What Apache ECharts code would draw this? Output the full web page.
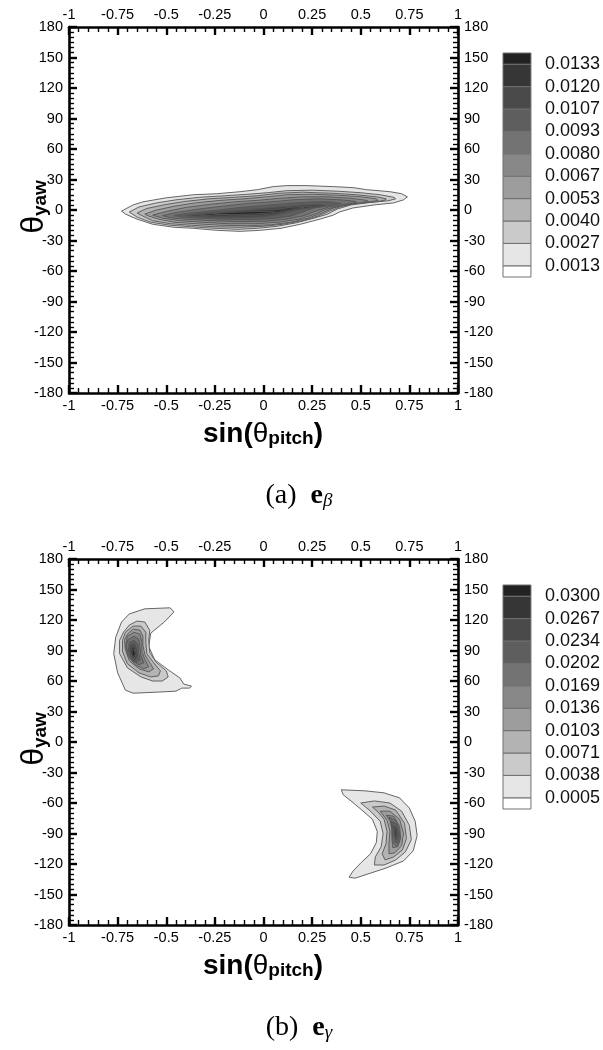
<!DOCTYPE html>
<html>
<head>
<meta charset="utf-8">
<script src="https://cdn.jsdelivr.net/npm/echarts@6/dist/echarts.min.js"></script>
<style>
  html, body { margin: 0; padding: 0; background: #ffffff; }
  #chart { width: 603px; height: 1050px; }
</style>
</head>
<body>
<div id="chart"></div>
<script>
// ---- axis ticks -------------------------------------------------------
const xTicks = [-1, -0.75, -0.5, -0.25, 0, 0.25, 0.5, 0.75, 1];
const yTicks = [-180, -150, -120, -90, -60, -30, 0, 30, 60, 90, 120, 150, 180];

// ---- contour levels (colour bar labels) -------------------------------
const levelsBeta  = ['0.0013', '0.0027', '0.0040', '0.0053', '0.0067', '0.0080', '0.0093', '0.0107', '0.0120', '0.0133'];
const levelsGamma = ['0.0005', '0.0038', '0.0071', '0.0103', '0.0136', '0.0169', '0.0202', '0.0234', '0.0267', '0.0300'];

// fill of the region above each level (level 1 .. level 10)
const bandFills = ['#e6e6e6', '#cacaca', '#b3b3b3', '#9d9d9d', '#888888', '#737373', '#5e5e5e', '#4a4a4a', '#363636', '#222222'];

// ---- e_beta : contour outlines, [sin(pitch), yaw] ---------------------
const betaL1 = [[-0.73,-1],[-0.67,5],[-0.62,8],[-0.50,12],[-0.36,15],[-0.24,16],[-0.12,18],[-0.03,20],[0.05,23],[0.12,24],[0.22,24],[0.36,23],[0.46,22],[0.53,20],[0.65,18],[0.71,16],[0.74,13],[0.72,10],[0.67,7],[0.57,5],[0.46,2],[0.39,-2],[0.36,-5],[0.29,-9],[0.19,-14],[0.09,-18],[-0.02,-20],[-0.12,-21],[-0.24,-20],[-0.36,-18],[-0.46,-17],[-0.57,-14],[-0.65,-9],[-0.71,-4]];
const betaL2 = [[-0.69,-2],[-0.64,3],[-0.55,7],[-0.45,10],[-0.33,12.5],[-0.20,14],[-0.08,15.5],[0.02,17],[0.12,19],[0.25,19.5],[0.38,18.5],[0.50,17],[0.60,15],[0.67,12.5],[0.68,11],[0.64,9],[0.55,7.5],[0.45,5],[0.38,1],[0.33,-4],[0.26,-8],[0.17,-12.5],[0.07,-16],[-0.03,-18],[-0.13,-19],[-0.25,-18],[-0.37,-16.5],[-0.48,-15],[-0.58,-12],[-0.65,-7]];
const betaL3 = [[-0.65,-3],[-0.60,1.5],[-0.50,5.5],[-0.40,8.5],[-0.28,11],[-0.15,12.5],[-0.03,14],[0.08,16.5],[0.20,17.5],[0.35,16.5],[0.48,15],[0.58,13],[0.63,11],[0.63,10],[0.58,8],[0.48,6.5],[0.40,3.5],[0.34,-1],[0.28,-6],[0.20,-10.5],[0.10,-14],[0.00,-16],[-0.12,-17],[-0.25,-16.5],[-0.37,-15],[-0.48,-13.5],[-0.57,-10.5],[-0.62,-6]];
const betaL4 = [[-0.61,-4],[-0.55,0],[-0.45,4],[-0.35,7],[-0.22,9.5],[-0.10,11],[0.02,13],[0.12,15],[0.25,15.5],[0.38,14.5],[0.50,13],[0.58,11],[0.59,9.5],[0.53,7.5],[0.44,5.5],[0.36,2],[0.30,-3],[0.23,-8],[0.14,-12],[0.04,-14.5],[-0.08,-15.5],[-0.22,-15],[-0.35,-13.5],[-0.46,-12],[-0.54,-9],[-0.59,-6]];
const betaL5 = [[-0.57,-5],[-0.50,-1.5],[-0.40,2.5],[-0.28,5.5],[-0.15,8],[-0.03,9.5],[0.08,11.5],[0.20,13],[0.33,13],[0.45,11.5],[0.53,9.5],[0.54,8.5],[0.48,6.5],[0.40,4.5],[0.32,0.5],[0.26,-4.5],[0.18,-9],[0.08,-12],[-0.04,-13.5],[-0.18,-13.5],[-0.32,-12],[-0.43,-10.5],[-0.52,-8]];
const betaL6 = [[-0.52,-5.5],[-0.45,-2.5],[-0.33,1],[-0.20,4],[-0.08,6.5],[0.04,8],[0.15,10],[0.28,11],[0.40,10],[0.47,8.5],[0.48,7.5],[0.42,5.5],[0.34,3],[0.27,-1],[0.21,-5.5],[0.12,-9],[0.02,-11],[-0.12,-11.5],[-0.27,-10.5],[-0.40,-9],[-0.48,-7.5]];
const betaL7 = [[-0.46,-5.5],[-0.38,-3],[-0.25,-0.5],[-0.12,2.5],[0.00,4.5],[0.12,6.5],[0.24,8],[0.34,8],[0.40,6.5],[0.35,4.5],[0.26,2],[0.20,-2],[0.14,-6],[0.05,-8.5],[-0.07,-9.5],[-0.22,-9],[-0.34,-8],[-0.42,-7]];
const betaL8 = [[-0.40,-5.5],[-0.30,-3],[-0.17,-1],[-0.04,1],[0.08,3],[0.20,5],[0.30,5.5],[0.32,4],[0.25,2],[0.17,0],[0.10,-3.5],[0.02,-6.5],[-0.10,-7.5],[-0.24,-7.5],[-0.35,-6.5]];
const betaL9 = [[-0.33,-4.5],[-0.22,-2.5],[-0.08,-0.5],[0.04,0.5],[0.10,1],[0.14,3],[0.22,3.5],[0.25,2.5],[0.18,1],[0.10,-1.5],[0.04,-4.5],[-0.08,-5.5],[-0.22,-6],[-0.30,-5.5]];
const betaL10 = [[-0.26,-3.5],[-0.14,-2.2],[-0.02,-1.5],[0.05,-1.2],[0.06,-2.5],[-0.04,-3.8],[-0.16,-4.5],[-0.24,-4.5]];
const betaL10b = [[0.12,2.5],[0.18,3],[0.21,2.5],[0.16,1.8]];

const betaContours = [
  { level: 1, pts: betaL1 }, { level: 2, pts: betaL2 }, { level: 3, pts: betaL3 },
  { level: 4, pts: betaL4 }, { level: 5, pts: betaL5 }, { level: 6, pts: betaL6 },
  { level: 7, pts: betaL7 }, { level: 8, pts: betaL8 }, { level: 9, pts: betaL9 },
  { level: 10, pts: betaL10 }, { level: 10, pts: betaL10b }
];

// ---- e_gamma : two crescent-shaped lobes ------------------------------
const gammaUpL1 = [[-0.69,126],[-0.61,131],[-0.48,132],[-0.46,128],[-0.51,118],[-0.58,107],[-0.59,94],[-0.56,81],[-0.49,71],[-0.43,63],[-0.41,57],[-0.37,55],[-0.38,53],[-0.42,53],[-0.45,50],[-0.55,49],[-0.67,48],[-0.71,51],[-0.75,68],[-0.77,87],[-0.76,103],[-0.73,118]];
const gammaUpL2 = [[-0.72,108],[-0.69,115],[-0.65,119],[-0.61,118],[-0.585,110],[-0.59,100],[-0.585,88],[-0.55,78],[-0.50,70],[-0.49,64],[-0.52,60],[-0.57,60],[-0.63,64],[-0.70,73],[-0.74,87],[-0.74,100]];
const gammaUpL3 = [[-0.71,108],[-0.67,114],[-0.63,114],[-0.605,108],[-0.605,98],[-0.60,87],[-0.565,78],[-0.53,70],[-0.54,65],[-0.58,64],[-0.64,68],[-0.70,77],[-0.725,89],[-0.725,100]];
const gammaUpL4 = [[-0.70,106],[-0.67,111],[-0.635,110],[-0.62,104],[-0.62,95],[-0.61,86],[-0.585,78],[-0.565,72],[-0.59,69],[-0.64,72],[-0.69,80],[-0.71,91],[-0.715,100]];
const gammaUpL5 = [[-0.70,104],[-0.665,108],[-0.635,106],[-0.625,98],[-0.625,89],[-0.61,81],[-0.59,74],[-0.615,72],[-0.66,76],[-0.695,84],[-0.71,94]];
const gammaUpL6 = [[-0.695,101],[-0.665,104],[-0.64,101],[-0.635,93],[-0.63,85],[-0.615,78],[-0.64,76],[-0.675,80],[-0.70,88],[-0.705,96]];
const gammaUpL7 = [[-0.69,98],[-0.665,100],[-0.645,96],[-0.642,88],[-0.635,81],[-0.655,78],[-0.68,82],[-0.695,90]];
const gammaUpL8 = [[-0.685,95],[-0.665,97],[-0.65,91],[-0.648,84],[-0.66,80],[-0.68,84],[-0.69,90]];
const gammaUpL9 = [[-0.68,92],[-0.663,94],[-0.655,88],[-0.66,83],[-0.675,84],[-0.683,88]];
const gammaUpL10 = [[-0.675,90],[-0.664,91],[-0.66,86],[-0.668,84],[-0.676,86]];

const gammaLoL1 = [[0.40,-47],[0.52,-48],[0.62,-50],[0.70,-55],[0.75,-65],[0.78,-78],[0.79,-92],[0.77,-107],[0.72,-117],[0.63,-124],[0.55,-129],[0.47,-134],[0.44,-133],[0.46,-127],[0.50,-119],[0.55,-110],[0.58,-99],[0.585,-88],[0.56,-76],[0.50,-66],[0.45,-58],[0.41,-52]];
const gammaLoL2 = [[0.50,-60],[0.57,-58],[0.65,-60],[0.71,-68],[0.75,-82],[0.76,-96],[0.73,-108],[0.68,-116],[0.62,-121],[0.57,-121],[0.575,-113],[0.605,-103],[0.615,-90],[0.60,-78],[0.55,-68]];
const gammaLoL3 = [[0.56,-64],[0.62,-63],[0.68,-67],[0.725,-80],[0.735,-95],[0.715,-106],[0.67,-113],[0.625,-116],[0.61,-110],[0.63,-100],[0.635,-88],[0.62,-76],[0.59,-69]];
const gammaLoL4 = [[0.60,-68],[0.65,-68],[0.70,-76],[0.72,-90],[0.71,-102],[0.675,-109],[0.645,-110],[0.645,-100],[0.65,-88],[0.635,-77]];
const gammaLoL5 = [[0.63,-72],[0.67,-73],[0.70,-83],[0.705,-95],[0.69,-103],[0.665,-104],[0.66,-95],[0.66,-85],[0.65,-77]];
const gammaLoL6 = [[0.645,-74],[0.68,-77],[0.70,-87],[0.70,-98],[0.685,-103],[0.665,-99],[0.662,-88],[0.655,-79]];
const gammaLoL7 = [[0.658,-78],[0.685,-81],[0.695,-90],[0.692,-99],[0.676,-99],[0.668,-89]];
const gammaLoL8 = [[0.667,-82],[0.687,-85],[0.69,-94],[0.678,-96],[0.67,-88]];
const gammaLoL9 = [[0.672,-85],[0.686,-88],[0.686,-94],[0.677,-94]];
const gammaLoL10 = [[0.676,-88],[0.684,-89],[0.683,-93],[0.677,-92]];

const gammaContours = [
  { level: 1, pts: gammaUpL1 }, { level: 2, pts: gammaUpL2 }, { level: 3, pts: gammaUpL3 },
  { level: 4, pts: gammaUpL4 }, { level: 5, pts: gammaUpL5 }, { level: 6, pts: gammaUpL6 },
  { level: 7, pts: gammaUpL7 }, { level: 8, pts: gammaUpL8 }, { level: 9, pts: gammaUpL9 },
  { level: 10, pts: gammaUpL10 },
  { level: 1, pts: gammaLoL1 }, { level: 2, pts: gammaLoL2 }, { level: 3, pts: gammaLoL3 },
  { level: 4, pts: gammaLoL4 }, { level: 5, pts: gammaLoL5 }, { level: 6, pts: gammaLoL6 },
  { level: 7, pts: gammaLoL7 }, { level: 8, pts: gammaLoL8 }, { level: 9, pts: gammaLoL9 },
  { level: 10, pts: gammaLoL10 }
];

// colour-bar bands: [lower edge, upper edge, fill index (-1 = white)]
const colorBands = [[0.5,1,-1],[1,2,0],[2,3,1],[3,4,2],[4,5,3],[5,6,4],[6,7,5],[7,8,6],[8,9,7],[9,10,8],[10,10.5,9]];
const barLevelPositions = [1,2,3,4,5,6,7,8,9,10];

// ---- layout -----------------------------------------------------------
const PLOT_LEFT = 69, PLOT_W = 389, PLOT_H = 366;
const PANEL_TOP = [27, 559];
const FONT = '"Liberation Sans", Arial, Helvetica, sans-serif';
const SERIF = '"Liberation Serif", "DejaVu Serif", serif';

const chart = echarts.init(document.getElementById('chart'), null, { renderer: 'canvas' });

const grids = [], xAxes = [], yAxes = [], series = [], graphics = [];

function frameAxisX(gridIndex, position) {
  return {
    gridIndex, type: 'value', position,
    min: xTicks[0], max: xTicks[xTicks.length - 1], interval: xTicks[1] - xTicks[0],
    axisLine: { show: true, onZero: false, lineStyle: { color: '#000', width: 2.6 } },
    axisTick: { show: true, inside: true, length: 8, lineStyle: { color: '#000', width: 2.4 } },
    minorTick: { show: true, splitNumber: 5, length: 5, lineStyle: { color: '#000', width: 1.4 } },
    splitLine: { show: false },
    axisLabel: { show: true, color: '#000', fontFamily: FONT, fontSize: 14.5, margin: 5,
      formatter: v => String(v) }
  };
}
function frameAxisY(gridIndex, position) {
  return {
    gridIndex, type: 'value', position,
    min: yTicks[0], max: yTicks[yTicks.length - 1], interval: yTicks[1] - yTicks[0],
    axisLine: { show: true, onZero: false, lineStyle: { color: '#000', width: 2.6 } },
    axisTick: { show: true, inside: true, length: 8, lineStyle: { color: '#000', width: 2.4 } },
    minorTick: { show: true, splitNumber: 6, length: 5, lineStyle: { color: '#000', width: 1.4 } },
    splitLine: { show: false },
    axisLabel: { show: true, color: '#000', fontFamily: FONT, fontSize: 14.5, margin: 6,
      formatter: v => String(v) }
  };
}

function contourSeries(list, xi, yi) {
  return {
    type: 'custom', xAxisIndex: xi, yAxisIndex: yi, clip: true, silent: true,
    data: list.map((c, i) => [i, c.level]),
    encode: { x: -1, y: -1 },
    renderItem: (params, api) => {
      const c = list[params.dataIndex];
      return {
        type: 'polygon',
        shape: { points: c.pts.map(p => api.coord(p)) },
        style: { fill: bandFills[c.level - 1], stroke: '#555', lineWidth: 0.9 }
      };
    }
  };
}

function colorBarSeries(xi, yi) {
  return {
    type: 'custom', xAxisIndex: xi, yAxisIndex: yi, silent: true,
    data: colorBands,
    encode: { x: -1, y: -1 },
    renderItem: (params, api) => {
      const b = colorBands[params.dataIndex];
      const p0 = api.coord([0, b[1]]);
      const p1 = api.coord([1, b[0]]);
      return {
        type: 'rect',
        shape: { x: p0[0], y: p0[1], width: p1[0] - p0[0], height: p1[1] - p0[1] },
        style: { fill: b[2] < 0 ? '#ffffff' : bandFills[b[2]], stroke: '#707070', lineWidth: 1 }
      };
    }
  };
}

const panels = [
  { contours: betaContours, levels: levelsBeta, tag: 'a', sub: 'β' },
  { contours: gammaContours, levels: levelsGamma, tag: 'b', sub: 'γ' }
];

panels.forEach((panel, k) => {
  const top = PANEL_TOP[k];
  const gPlot = grids.length;
  grids.push({ left: PLOT_LEFT, top, width: PLOT_W, height: PLOT_H, containLabel: false });
  const gBar = grids.length;
  grids.push({ left: 503, top: top + 26, width: 28, height: 224, containLabel: false });

  const xb = xAxes.length; xAxes.push(frameAxisX(gPlot, 'bottom'));
  xAxes.push(frameAxisX(gPlot, 'top'));
  const yl = yAxes.length; yAxes.push(frameAxisY(gPlot, 'left'));
  yAxes.push(frameAxisY(gPlot, 'right'));

  // colour bar axes
  const xc = xAxes.length;
  xAxes.push({ gridIndex: gBar, type: 'value', min: 0, max: 1, show: false });
  const yc = yAxes.length;
  yAxes.push({
    gridIndex: gBar, type: 'value', position: 'right', min: 0.5, max: 10.5,
    axisLine: { show: false }, axisTick: { show: false }, splitLine: { show: false },
    axisLabel: {
      show: true, customValues: barLevelPositions, color: '#111', fontFamily: FONT,
      fontSize: 18, margin: 14, padding: [6, 0, 0, 0],
      formatter: v => panel.levels[Math.round(v) - 1] || ''
    }
  });

  series.push(contourSeries(panel.contours, xb, yl));
  series.push(colorBarSeries(xc, yc));

  // axis titles
  graphics.push({
    type: 'text', x: 263, y: top + 399, z: 10,
    style: {
      text: '{a|sin(}{t|θ}{s|pitch}{a|)}', align: 'center', verticalAlign: 'middle',
      rich: {
        a: { fontFamily: FONT, fontWeight: 'bold', fontSize: 28, lineHeight: 44, verticalAlign: 'bottom', fill: '#000' },
        t: { fontFamily: FONT, fontWeight: 'normal', fontSize: 28, lineHeight: 44, verticalAlign: 'bottom', fill: '#000' },
        s: { fontFamily: FONT, fontWeight: 'bold', fontSize: 19, lineHeight: 20, verticalAlign: 'bottom', fill: '#000' }
      }
    }
  });
  graphics.push({
    type: 'text', x: 27, y: top + 180, rotation: Math.PI / 2, z: 10,
    style: {
      text: '{t|θ}{s|yaw}', align: 'center', verticalAlign: 'middle',
      rich: {
        t: { fontFamily: FONT, fontSize: 32, lineHeight: 46, verticalAlign: 'bottom', fill: '#000' },
        s: { fontFamily: FONT, fontWeight: 'bold', fontSize: 19, lineHeight: 20, verticalAlign: 'bottom', fill: '#000' }
      }
    }
  });
  // panel caption
  graphics.push({
    type: 'text', x: 299, y: top + 465, z: 10,
    style: {
      text: '{p|(' + panel.tag + ')}{sp|  }{e|e}{g|' + panel.sub + '}',
      align: 'center', verticalAlign: 'middle',
      rich: {
        p: { fontFamily: SERIF, fontSize: 28, lineHeight: 36, verticalAlign: 'bottom', fill: '#000' },
        sp: { fontFamily: SERIF, fontSize: 28, lineHeight: 36, verticalAlign: 'bottom' },
        e: { fontFamily: SERIF, fontWeight: 'bold', fontSize: 28, lineHeight: 36, verticalAlign: 'bottom', fill: '#000' },
        g: { fontFamily: SERIF, fontStyle: 'italic', fontSize: 19, lineHeight: 22, verticalAlign: 'bottom', fill: '#000' }
      }
    }
  });
});

chart.setOption({
  backgroundColor: '#ffffff',
  animation: false,
  grid: grids,
  xAxis: xAxes,
  yAxis: yAxes,
  series,
  graphic: graphics
});
</script>
</body>
</html>
